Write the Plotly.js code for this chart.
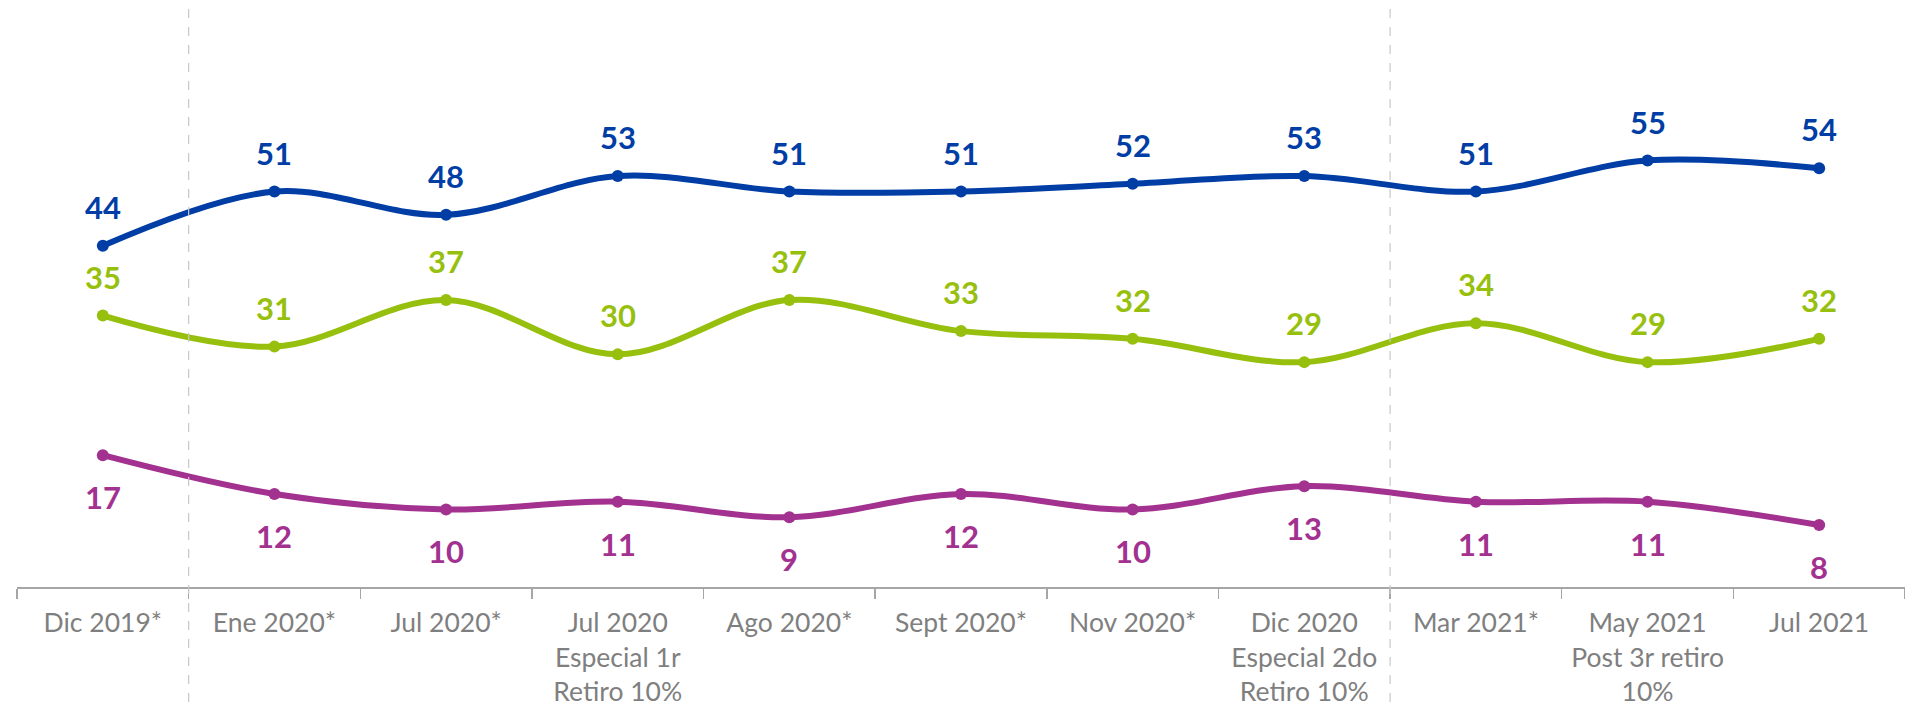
<!DOCTYPE html>
<html>
<head>
<meta charset="utf-8">
<script src="https://cdn.plot.ly/plotly-3.0.1.min.js"></script>
<style>html,body{margin:0;padding:0;background:#fff;}#chart{width:1905px;height:708px;}</style>
</head>
<body>
<div id="chart"></div>
<script>
const categories = [
  "Dic 2019*",
  "Ene 2020*",
  "Jul 2020*",
  "Jul 2020<br>Especial 1r<br>Retiro 10%",
  "Ago 2020*",
  "Sept 2020*",
  "Nov 2020*",
  "Dic 2020<br>Especial 2do<br>Retiro 10%",
  "Mar 2021*",
  "May 2021<br>Post 3r retiro<br>10%",
  "Jul 2021"
];
const seriesBlue = [44, 51, 48, 53, 51, 51, 52, 53, 51, 55, 54];
const seriesGreen = [35, 31, 37, 30, 37, 33, 32, 29, 34, 29, 32];
const seriesPurple = [17, 12, 10, 11, 9, 12, 10, 13, 11, 11, 8];
const dividerPositions = [0.5, 7.5];

const colors = {blue: "#003DA5", green: "#97BF0D", purple: "#A2318F"};

function lineTrace(vals, color) {
  return {
    x: categories, y: vals, type: "scatter", mode: "lines+markers",
    line: {color: color, width: 6, shape: "spline", smoothing: 1},
    marker: {color: color, size: 12},
    hoverinfo: "skip", showlegend: false, cliponaxis: false
  };
}

const traces = [
  lineTrace(seriesPurple, colors.purple),
  lineTrace(seriesGreen, colors.green),
  lineTrace(seriesBlue, colors.blue)
];

const annotations = [];
function addLabels(vals, color, shift) {
  vals.forEach((v, i) => {
    annotations.push({
      x: categories[i], y: v, xref: "x", yref: "y", text: String(v),
      showarrow: false, yshift: shift, yanchor: "middle", xanchor: "center",
      font: {family: "Lato, 'Open Sans', sans-serif", size: 31, color: color, weight: "bold"}
    });
  });
}
addLabels(seriesBlue, colors.blue, 39);
addLabels(seriesGreen, colors.green, 39);
addLabels(seriesPurple, colors.purple, -42);

const shapes = dividerPositions.map(p => ({
  type: "line", xref: "x", yref: "paper", x0: p, x1: p, y0: -0.196, y1: 0.99,
  line: {color: "#c8c8c8", width: 1.2, dash: "dash"}
}));

const layout = {
  width: 1905, height: 708,
  margin: {l: 17, r: 0, t: 0, b: 121},
  paper_bgcolor: "#ffffff", plot_bgcolor: "#ffffff",
  showlegend: false,
  xaxis: {
    type: "category", range: [-0.5, 10.5], tickson: "boundaries",
    ticks: "outside", ticklen: 10, tickcolor: "#a6a6a6", tickwidth: 1.5,
    showline: true, linecolor: "#a6a6a6", linewidth: 1.5,
    showgrid: false, zeroline: false, fixedrange: true,
    ticklabelstandoff: 12,
    tickfont: {family: "Lato, 'Open Sans', sans-serif", size: 26.5, color: "#7f7f7f"}
  },
  yaxis: {
    range: [0, 75.7], visible: false, showgrid: false, zeroline: false, fixedrange: true
  },
  annotations: annotations,
  shapes: shapes
};

Plotly.newPlot("chart", traces, layout, {displayModeBar: false, staticPlot: true});
</script>
</body>
</html>
